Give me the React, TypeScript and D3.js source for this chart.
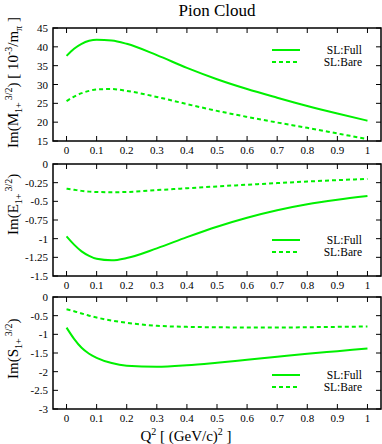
import React from "react";
import * as d3 from "d3";

// data
const qValues = [0, 0.025, 0.05, 0.075, 0.1, 0.15, 0.2, 0.3, 0.4, 0.5, 0.6, 0.7, 0.8, 0.9, 1.0];

const mFull = [37.6, 39.5, 40.8, 41.6, 41.9, 41.7, 40.8, 37.8, 34.4, 31.4, 28.8, 26.5, 24.3, 22.3, 20.4];
const mBare = [25.6, 26.8, 27.7, 28.3, 28.7, 28.8, 28.3, 26.7, 24.8, 23.0, 21.4, 19.9, 18.5, 17.0, 15.5];

const eFull = [-0.97, -1.08, -1.17, -1.23, -1.27, -1.29, -1.26, -1.13, -0.98, -0.84, -0.72, -0.62, -0.54, -0.48, -0.43];
const eBare = [-0.33, -0.345, -0.36, -0.37, -0.375, -0.378, -0.375, -0.35, -0.325, -0.3, -0.278, -0.256, -0.235, -0.216, -0.2];

const sFull = [-0.82, -1.12, -1.36, -1.52, -1.63, -1.77, -1.84, -1.87, -1.83, -1.76, -1.68, -1.6, -1.52, -1.45, -1.38];
const sBare = [-0.33, -0.38, -0.44, -0.5, -0.55, -0.63, -0.69, -0.77, -0.8, -0.81, -0.82, -0.82, -0.81, -0.8, -0.79];

const xTicks = [0, 0.1, 0.2, 0.3, 0.4, 0.5, 0.6, 0.7, 0.8, 0.9, 1];
const mTicks = [15, 20, 25, 30, 35, 40, 45];
const eTicks = [0, -0.25, -0.5, -0.75, -1, -1.25, -1.5];
const sTicks = [0, -0.5, -1, -1.5, -2, -2.5, -3];

const legendNames = ["SL:Full", "SL:Bare"];

const GREEN = "#00f000";
const FONT = "'Liberation Serif', 'Times New Roman', serif";

const left = 53;
const right = 381;

const x = d3.scaleLinear().domain([-0.045, 1.045]).range([left, right]);

const panels = [
  { key: "M", top: 28, bottom: 141, domain: [15, 45], ticks: mTicks, full: mFull, bare: mBare, legendY: 50, letter: "M", labelStart: 148, extra: true },
  { key: "E", top: 164, bottom: 276, domain: [-1.5, 0], ticks: eTicks, full: eFull, bare: eBare, legendY: 240, letter: "E", labelStart: 235, extra: false },
  { key: "S", top: 297, bottom: 409, domain: [-3, 0], ticks: sTicks, full: sFull, bare: sBare, legendY: 375, letter: "S", labelStart: 379, extra: false },
];

const Panel = ({ p }: { p: any }) => {
  const y = d3.scaleLinear().domain(p.domain).range([p.bottom, p.top]);
  const line = d3
    .line<number>()
    .x((_, i) => x(qValues[i]))
    .y((d) => y(d))
    .curve(d3.curveMonotoneX);
  const tl = 5;
  return (
    <g>
      {/* curves */}
      <path d={line(p.full) || ""} fill="none" stroke={GREEN} strokeWidth={2} />
      <path d={line(p.bare) || ""} fill="none" stroke={GREEN} strokeWidth={2} strokeDasharray="4,3" />

      {/* x ticks */}
      {xTicks.map((t) => (
        <g key={"x" + t}>
          <line x1={x(t)} x2={x(t)} y1={p.bottom} y2={p.bottom - tl} stroke="black" />
          <line x1={x(t)} x2={x(t)} y1={p.top} y2={p.top + tl} stroke="black" />
          <text x={x(t)} y={p.bottom + 13} textAnchor="middle" fontSize={11}>
            {String(t)}
          </text>
        </g>
      ))}

      {/* y ticks */}
      {p.ticks.map((t: number) => (
        <g key={"y" + t}>
          <line x1={left} x2={left + tl} y1={y(t)} y2={y(t)} stroke="black" />
          <line x1={right} x2={right - tl} y1={y(t)} y2={y(t)} stroke="black" />
          <text x={48} y={y(t) + 4} textAnchor="end" fontSize={11}>
            {String(t)}
          </text>
        </g>
      ))}

      {/* frame */}
      <rect x={left} y={p.top} width={right - left} height={p.bottom - p.top} fill="none" stroke="black" strokeWidth={1.5} />

      {/* legend */}
      {legendNames.map((name, i) => (
        <g key={name}>
          <line
            x1={272}
            x2={300}
            y1={p.legendY + i * 12}
            y2={p.legendY + i * 12}
            stroke={GREEN}
            strokeWidth={2}
            strokeDasharray={i === 1 ? "4,3" : undefined}
          />
          <text x={362} y={p.legendY + i * 12 + 4} textAnchor="end" fontSize={11.5}>
            {name}
          </text>
        </g>
      ))}

      {/* y label */}
      <text transform={`translate(18, ${p.labelStart}) rotate(-90)`} fontSize={15}>
        {"Im(" + p.letter}
        <tspan dy={4} fontSize={10}>1+</tspan>
        <tspan dy={-10} dx={2} fontSize={10}>3/2</tspan>
        <tspan dy={6}>)</tspan>
        {p.extra && (
          <>
            <tspan>{" [ 10"}</tspan>
            <tspan dy={-6} fontSize={10}>-3</tspan>
            <tspan dy={6}>/m</tspan>
            <tspan dy={4} fontSize={10}>π</tspan>
            <tspan dy={-4}>{" ]"}</tspan>
          </>
        )}
      </text>
    </g>
  );
};

export default function App() {
  return (
    <svg
      width={382}
      height={444}
      style={{ position: "absolute", left: 0, top: 0, background: "white", fontFamily: FONT }}
    >
      <rect width={382} height={444} fill="white" />
      <text x={217} y={16} textAnchor="middle" fontSize={17}>
        Pion Cloud
      </text>
      {panels.map((p) => (
        <Panel key={p.key} p={p} />
      ))}
      <text x={186} y={441} textAnchor="middle" fontSize={15}>
        Q<tspan dy={-6} fontSize={10}>2</tspan>
        <tspan dy={6}>{" [ (GeV/c)"}</tspan>
        <tspan dy={-6} fontSize={10}>2</tspan>
        <tspan dy={6}>{" ]"}</tspan>
      </text>
    </svg>
  );
}
